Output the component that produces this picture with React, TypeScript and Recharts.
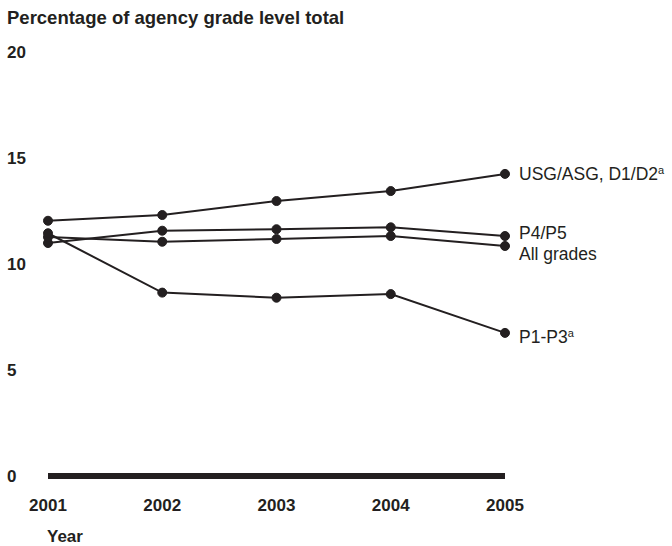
import { LineChart, Line, XAxis, YAxis, LabelList } from "recharts";

const INK = "#231f20";
const FONT = "'Liberation Sans', Arial, Helvetica, sans-serif";

const years = ["2001", "2002", "2003", "2004", "2005"];
const usgAsg = [12.04, 12.31, 12.97, 13.44, 14.25];
const p4p5 = [10.99, 11.57, 11.64, 11.73, 11.32];
const allGrades = [11.27, 11.05, 11.18, 11.32, 10.85];
const p1p3 = [11.45, 8.65, 8.41, 8.58, 6.75];
const yTicks = [0, 5, 10, 15, 20];

const data = years.map((year, i) => ({
  year,
  usgAsg: usgAsg[i],
  p4p5: p4p5[i],
  allGrades: allGrades[i],
  p1p3: p1p3[i],
}));

const SERIES = [
  { key: "usgAsg", name: "USG/ASG, D1/D2", sup: true, dy: 0 },
  { key: "p4p5", name: "P4/P5", sup: false, dy: -3 },
  { key: "allGrades", name: "All grades", sup: false, dy: 8 },
  { key: "p1p3", name: "P1-P3", sup: true, dy: 4 },
];

function YTick(props: { y?: number; payload?: { value?: number } }) {
  const { y = 0, payload } = props;
  return (
    <text
      x={7}
      y={y}
      dy={6}
      textAnchor="start"
      fontFamily={FONT}
      fontWeight="bold"
      fontSize={17}
      fill={INK}
    >
      {payload?.value}
    </text>
  );
}

function XTick(props: { x?: number; y?: number; payload?: { value?: string } }) {
  const { x = 0, y = 0, payload } = props;
  return (
    <text
      x={x}
      y={y}
      dy={27}
      textAnchor="middle"
      fontFamily={FONT}
      fontWeight="bold"
      fontSize={17}
      fill={INK}
    >
      {payload?.value}
    </text>
  );
}

function endLabel(name: string, sup: boolean, dy: number) {
  return (props: { x?: number | string; y?: number | string; index?: number }) => {
    if (props.index !== years.length - 1) return null;
    const x = Number(props.x);
    const y = Number(props.y);
    return (
      <text
        x={x + 14}
        y={y + dy}
        dy={6}
        fontFamily={FONT}
        fontSize={17.5}
        fill={INK}
      >
        {name}
        {sup && (
          <tspan fontSize={11} dy={-6}>
            a
          </tspan>
        )}
      </text>
    );
  };
}

export default function App() {
  return (
    <div
      style={{
        position: "absolute",
        left: 0,
        top: 0,
        width: 672,
        height: 546,
        background: "#fff",
        fontFamily: FONT,
        color: INK,
      }}
    >
      <div
        style={{
          position: "absolute",
          left: 7,
          top: 7,
          fontSize: 18.5,
          fontWeight: "bold",
          whiteSpace: "nowrap",
        }}
      >
        Percentage of agency grade level total
      </div>
      <div
        style={{
          position: "absolute",
          left: 47,
          top: 527,
          fontSize: 17,
          fontWeight: "bold",
        }}
      >
        Year
      </div>
      <LineChart
        width={672}
        height={546}
        data={data}
        margin={{ top: 52, right: 167, bottom: 40, left: 0 }}
      >
        <XAxis
          dataKey="year"
          height={30}
          axisLine={{ stroke: INK, strokeWidth: 6 }}
          tickLine={false}
          tick={<XTick />}
          interval={0}
        />
        <YAxis
          width={48}
          domain={[0, 20]}
          ticks={yTicks}
          axisLine={false}
          tickLine={false}
          tick={<YTick />}
        />
        {SERIES.map((s) => (
          <Line
            key={s.key}
            dataKey={s.key}
            stroke={INK}
            strokeWidth={2}
            dot={{ r: 4.5, fill: INK, stroke: INK, strokeWidth: 1 }}
            isAnimationActive={false}
          >
            <LabelList dataKey={s.key} content={endLabel(s.name, s.sup, s.dy)} />
          </Line>
        ))}
      </LineChart>
    </div>
  );
}
